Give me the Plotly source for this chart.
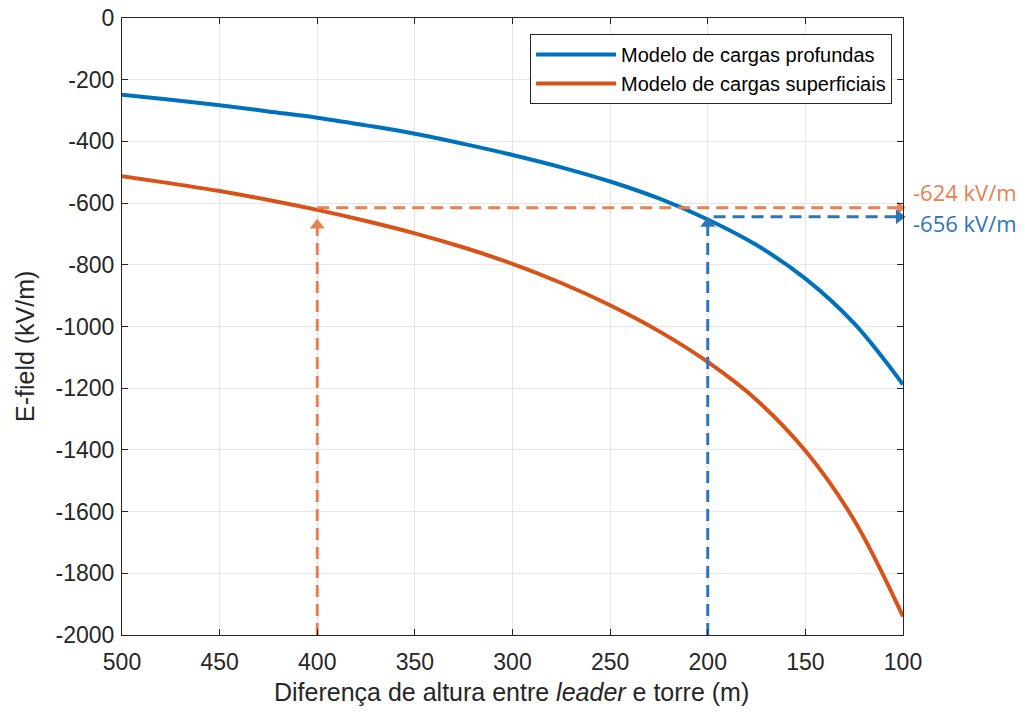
import plotly.graph_objects as go

# Data
height = [500, 475, 450, 425, 400, 375, 350, 325, 300, 275, 250, 225, 200, 175, 150, 125, 100]
e_deep = [-249, -265, -283, -303, -323, -348, -375, -408, -444, -484, -530, -585, -653, -736, -845, -990, -1188]
e_surface = [-513, -536, -561, -590, -622, -658, -698, -744, -797, -859, -931, -1015, -1115, -1238, -1403, -1628, -1940]

series_names = ["Modelo de cargas profundas", "Modelo de cargas superficiais"]

guide_h_surface = 400
guide_e_surface = -615
guide_h_deep = 200
guide_e_deep = -644
label_surface = "-624 kV/m"
label_deep = "-656 kV/m"

x_ticks = [500, 450, 400, 350, 300, 250, 200, 150, 100]
y_ticks = [0, -200, -400, -600, -800, -1000, -1200, -1400, -1600, -1800, -2000]

BLUE = "#0072BD"
RED = "#D95319"
ANN_ORANGE = "#E8804F"
ANN_BLUE = "#2E75B6"
FONT = "Liberation Sans, Arial, sans-serif"

fig = go.Figure()

fig.add_trace(go.Scatter(x=height, y=e_deep, mode="lines", name=series_names[0],
                         line=dict(color=BLUE, width=4, shape="spline", smoothing=1.0)))
fig.add_trace(go.Scatter(x=height, y=e_surface, mode="lines", name=series_names[1],
                         line=dict(color=RED, width=4, shape="spline", smoothing=1.0)))

dash_style = "12px,7px"
# Dashed guide lines
fig.add_trace(go.Scatter(x=[guide_h_surface, guide_h_surface], y=[-2000, -660],
                         mode="lines", showlegend=False, cliponaxis=False,
                         line=dict(color=ANN_ORANGE, width=3, dash=dash_style)))
fig.add_trace(go.Scatter(x=[guide_h_surface, 102], y=[guide_e_surface, guide_e_surface],
                         mode="lines", showlegend=False, cliponaxis=False,
                         line=dict(color=ANN_ORANGE, width=3, dash=dash_style)))
fig.add_trace(go.Scatter(x=[guide_h_deep, guide_h_deep], y=[-2000, guide_e_deep - 20],
                         mode="lines", showlegend=False, cliponaxis=False,
                         line=dict(color=ANN_BLUE, width=3, dash=dash_style)))
fig.add_trace(go.Scatter(x=[197, 102], y=[guide_e_deep, guide_e_deep],
                         mode="lines", showlegend=False, cliponaxis=False,
                         line=dict(color=ANN_BLUE, width=3, dash=dash_style)))

# Arrow heads
fig.add_trace(go.Scatter(x=[guide_h_surface], y=[-672], mode="markers",
                         showlegend=False, cliponaxis=False,
                         marker=dict(symbol="triangle-up", size=13, color=ANN_ORANGE)))
fig.add_trace(go.Scatter(x=[guide_h_deep], y=[guide_e_deep - 22], mode="markers",
                         showlegend=False, cliponaxis=False,
                         marker=dict(symbol="triangle-up", size=13, color=ANN_BLUE)))
fig.add_trace(go.Scatter(x=[101.5], y=[guide_e_surface], mode="markers",
                         showlegend=False, cliponaxis=False,
                         marker=dict(symbol="triangle-right", size=11, color=ANN_ORANGE)))
fig.add_trace(go.Scatter(x=[102], y=[guide_e_deep], mode="markers",
                         showlegend=False, cliponaxis=False,
                         marker=dict(symbol="triangle-right", size=13, color=ANN_BLUE)))

fig.add_annotation(x=1.010, y=-565, xref="paper", yref="y", text=label_surface,
                   showarrow=False, xanchor="left", yanchor="middle",
                   font=dict(family="Open Sans, sans-serif", size=22, color=ANN_ORANGE))
fig.add_annotation(x=1.010, y=-666, xref="paper", yref="y", text=label_deep,
                   showarrow=False, xanchor="left", yanchor="middle",
                   font=dict(family="Open Sans, sans-serif", size=22, color=ANN_BLUE))

# Axis titles
fig.add_annotation(x=0.499, y=-0.092, xref="paper", yref="paper",
                   text="Diferença de altura entre <i>leader</i> e torre (m)",
                   showarrow=False, xanchor="center", yanchor="middle",
                   font=dict(family=FONT, size=25, color="#262626"))
fig.add_annotation(x=-0.124, y=0.467, xref="paper", yref="paper",
                   text="E-field (kV/m)", textangle=-90,
                   showarrow=False, xanchor="center", yanchor="middle",
                   font=dict(family=FONT, size=25, color="#262626"))

axis_common = dict(
    showgrid=True, gridcolor="#e6e6e6", gridwidth=1,
    showline=True, linecolor="#262626", linewidth=1, mirror="ticks",
    ticks="inside", ticklen=6, tickcolor="#262626",
    tickfont=dict(family=FONT, size=23, color="#262626"),
    zeroline=False, automargin=False,
)

fig.update_layout(
    width=1029, height=715,
    margin=dict(l=122, r=126, t=18, b=80),
    paper_bgcolor="white", plot_bgcolor="white",
    font=dict(family=FONT, color="#262626"),
    xaxis=dict(range=[500, 100], tickvals=x_ticks, ticktext=[str(v) for v in x_ticks],
               ticklabelstandoff=6, **axis_common),
    yaxis=dict(range=[-2000, 0], tickvals=y_ticks, ticktext=[str(v) for v in y_ticks],
               ticklabelstandoff=2, **axis_common),
    legend=dict(x=0.986, y=0.974, xanchor="right", yanchor="top",
                bgcolor="white", bordercolor="#262626", borderwidth=1,
                font=dict(family=FONT, size=20, color="#000000"),
                tracegroupgap=0, itemwidth=80),
    showlegend=True,
)

fig.write_html("out.html")
